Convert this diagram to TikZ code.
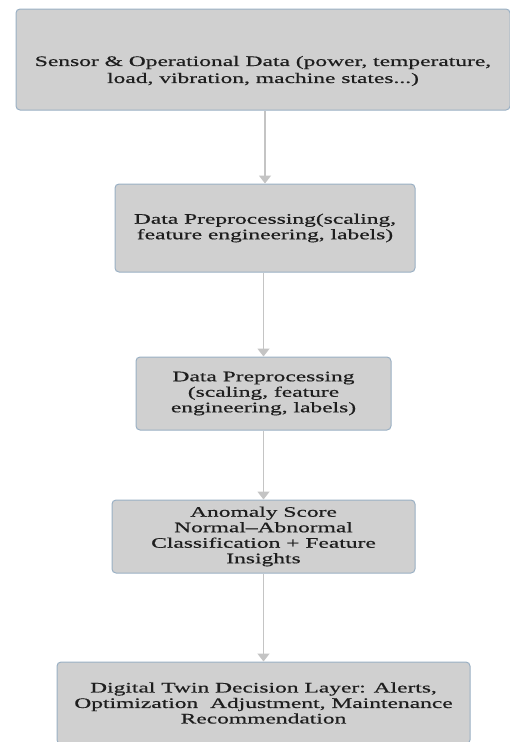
\documentclass[tikz,border=0pt]{standalone}
\usepackage{fontspec}
\setmainfont{Liberation Serif}[FakeStretch=1.62,FakeBold=0.6]
\usetikzlibrary{arrows.meta}
\definecolor{boxgray}{HTML}{D0D0D0}
\definecolor{boxedge}{HTML}{9AB0C4}
\definecolor{arrgray}{HTML}{C4C4C4}
\definecolor{txtcol}{HTML}{1E1E1E}
\tikzset{
  box/.style={draw=boxedge, fill=boxgray, line width=1pt, rounded corners=4pt,
    align=center, inner sep=0pt, text=txtcol,
    font=\fontsize{14.5pt}{15.5pt}\selectfont},
  txt/.style={align=center, inner sep=0pt, text=txtcol,
    font=\fontsize{14.5pt}{17pt}\selectfont},
  arr/.style={draw=arrgray, line width=1.5pt,
    -{Triangle[length=8pt,width=12pt,fill=arrgray]}}
}
\begin{document}
\begin{tikzpicture}[x=1pt,y=-1pt]
\useasboundingbox (0,0) rectangle (510,742);
\clip (0,0) rectangle (510,742);
\node[box, minimum width=494pt, minimum height=101pt] (b1) at (263,59.5) {};
\node[txt] (t1) at (263,71) {Sensor \& Operational Data (power, temperature,\\load, vibration, machine states...)};
\node[box, minimum width=300pt, minimum height=88pt] (b2) at (265,228)
  {Data Preprocessing(scaling,\\feature engineering, labels)};
\node[box, minimum width=255pt, minimum height=73pt] (b3) at (263.5,393.5)
  {Data Preprocessing\\(scaling, feature\\engineering, labels)};
\node[box, minimum width=303pt, minimum height=73pt] (b4) at (263.5,536.5)
  {Anomaly Score\\Normal--Abnormal\\Classification + Feature\\Insights};
\node[box, minimum width=413pt, minimum height=82pt] (b5) at (263.5,703)
  {Digital Twin Decision Layer: Alerts,\\Optimization\ \ Adjustment, Maintenance\\Recommendation};
\draw[arr] (b2.north |- b1.south) -- (b2.north);
\draw[arr] (b3.north |- b2.south) -- (b3.north);
\draw[arr] (b4.north |- b3.south) -- (b4.north);
\draw[arr] (b5.north |- b4.south) -- (b5.north);
\end{tikzpicture}
\end{document}
